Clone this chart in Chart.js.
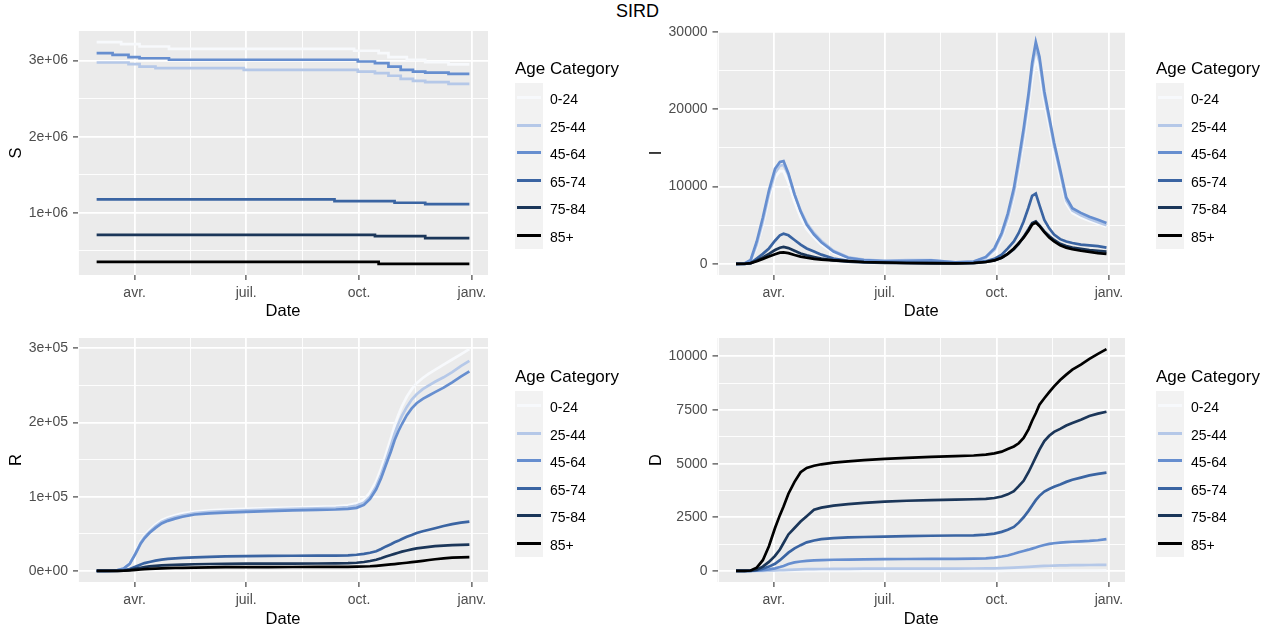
<!DOCTYPE html>
<html>
<head>
<meta charset="utf-8">
<title>SIRD</title>
<script src="https://cdn.jsdelivr.net/npm/chart.js@4.4.1/dist/chart.umd.min.js"></script>
<style>
  body {
    margin: 0;
    width: 1285px;
    height: 633px;
    position: relative;
    overflow: hidden;
    background: #ffffff;
    font-family: "Liberation Sans", Arial, sans-serif;
  }
  canvas { position: absolute; }
  #title {
    position: absolute;
    left: 0;
    top: 1px;
    width: 1275px;
    text-align: center;
    font-size: 18px;
    line-height: 21px;
    color: #000;
  }
  .legend { position: absolute; width: 125px; height: 200px; }
  .legend .head {
    position: absolute; left: 0; top: 0;
    font-size: 17px; line-height: 20px; white-space: nowrap; color: #000;
  }
  .legend .keys {
    position: absolute; left: 0; top: 24px; width: 28px; height: 166px;
    background: #f2f2f2;
  }
  .legend .row { position: absolute; left: 0; height: 28px; width: 120px; }
  .legend .swatch { position: absolute; left: 2px; top: 12px; width: 24px; height: 3px; }
  .legend .lab {
    position: absolute; left: 35px; top: 1px;
    font-size: 14px; line-height: 28px; color: #000;
  }
</style>
</head>
<body>
<div id="title">SIRD</div>
<canvas id="chartS" width="640" height="325" style="left:0;top:0"></canvas>
<canvas id="chartI" width="645" height="325" style="left:640px;top:0"></canvas>
<canvas id="chartR" width="640" height="325" style="left:0;top:308px"></canvas>
<canvas id="chartD" width="645" height="325" style="left:640px;top:308px"></canvas>
<script>
const FONT = "'Liberation Sans', Arial, sans-serif";

const categories = ["0-24", "25-44", "45-64", "65-74", "75-84", "85+"];
const colours = ["#f7f9fc", "#b5c8e8", "#668ecf", "#3a64a2", "#1b3659", "#000000"];

// x axis is day of year (2020), labelled by month
const xTicks = [91, 182, 274, 366];
const xTickLabels = ["avr.", "juil.", "oct.", "janv."];

// S : step changes, each value holds from its day onwards
const sDays = [60, 73, 80, 86, 95, 108, 119, 180, 254, 270, 273, 287, 290, 298, 303, 308, 313, 318, 328, 347, 364];
const s0_24 = [3242000, 3242000, 3216000, 3216000, 3184000, 3184000, 3154000, 3154000, 3154000, 3128000, 3128000,
  3128000, 3097000, 3045000, 3045000, 3045000, 3010000, 3010000, 2980000, 2950000, 2950000];
const s25_44 = [2974000, 2974000, 2974000, 2952000, 2920000, 2900000, 2900000, 2878000, 2878000, 2878000, 2855000,
  2834000, 2834000, 2800000, 2800000, 2760000, 2760000, 2733000, 2716000, 2693000, 2693000];
const s45_64 = [3097000, 3075000, 3075000, 3045000, 3030000, 3030000, 3010000, 3010000, 3010000, 3010000, 2987000,
  2966000, 2966000, 2920000, 2920000, 2878000, 2878000, 2855000, 2842000, 2825000, 2825000];
const s65_74 = [1176000, 1176000, 1176000, 1176000, 1176000, 1176000, 1176000, 1176000, 1154000, 1154000, 1154000,
  1154000, 1154000, 1154000, 1132000, 1132000, 1132000, 1132000, 1115000, 1115000, 1115000];
const s75_84 = [710000, 710000, 710000, 710000, 710000, 710000, 710000, 710000, 710000, 710000, 710000,
  693000, 693000, 693000, 693000, 693000, 693000, 693000, 667000, 667000, 667000];
const s85 = [355000, 355000, 355000, 355000, 355000, 355000, 355000, 355000, 355000, 355000, 355000,
  355000, 329000, 329000, 329000, 329000, 329000, 329000, 329000, 329000, 329000];
const sTicks = [1000000, 2000000, 3000000];
const sTickLabels = ["1e+06", "2e+06", "3e+06"];

// I, R and D are sampled on the same days
const days = [60, 67, 72, 77, 82, 87, 92, 96, 99, 103, 108, 113, 118, 124, 130, 140, 152, 165, 182, 200, 220, 240,
  255, 265, 272, 278, 283, 288, 292, 296, 300, 303, 306, 309, 313, 317, 321, 326, 331, 336, 343, 350, 357, 364];

const i0_24 = [0, 30, 300, 2200, 5000, 8500, 11200, 12000, 12000, 10500, 8000, 6000, 4500, 3400, 2500, 1400, 700, 450,
  350, 450, 450, 200, 250, 700, 1600, 3400, 5600, 8700, 12200, 16000, 20300, 24000, 26500, 25000, 21000, 17800,
  14600, 11200, 7800, 6600, 6000, 5600, 5200, 4800];
const i25_44 = [0, 40, 400, 2500, 5500, 9000, 11800, 12700, 12800, 11500, 9000, 6900, 5300, 4000, 3000, 1700, 850,
  550, 400, 500, 500, 200, 300, 800, 1800, 3700, 6000, 9200, 12800, 16800, 21300, 25300, 28000, 26200, 21800,
  18600, 15300, 11800, 8200, 6900, 6300, 5800, 5400, 5000];
const i45_64 = [0, 50, 500, 2900, 6000, 9500, 12300, 13200, 13300, 11700, 9000, 6800, 5100, 3800, 2800, 1600, 800,
  500, 350, 400, 450, 200, 300, 900, 2000, 4000, 6500, 9800, 13500, 17500, 22000, 26000, 28700, 26800, 22300,
  19000, 15700, 12200, 8600, 7200, 6600, 6100, 5700, 5300];
const i65_74 = [0, 10, 100, 700, 1300, 2000, 3000, 3700, 3900, 3700, 3100, 2500, 2000, 1600, 1200, 700, 400, 250,
  200, 150, 120, 100, 150, 350, 650, 1200, 2000, 2900, 4000, 5500, 7300, 8800, 9100, 7600, 5700, 4600, 3800,
  3200, 2900, 2700, 2500, 2400, 2300, 2100];
const i75_84 = [0, 10, 80, 450, 850, 1300, 1800, 2100, 2200, 2050, 1700, 1350, 1100, 900, 700, 450, 280, 180, 130,
  100, 80, 70, 100, 250, 450, 800, 1300, 1900, 2600, 3500, 4500, 5300, 5500, 5000, 4200, 3600, 3100, 2600, 2300,
  2100, 1950, 1800, 1700, 1600];
const i85 = [0, 20, 100, 350, 650, 950, 1250, 1450, 1500, 1400, 1150, 950, 800, 650, 550, 450, 350, 250, 180, 120,
  100, 80, 120, 250, 450, 800, 1300, 2000, 2700, 3400, 4300, 5100, 5350, 4900, 4100, 3400, 2900, 2400, 2100, 1900,
  1700, 1550, 1400, 1300];
const iTicks = [0, 10000, 20000, 30000];
const iTickLabels = ["0", "10000", "20000", "30000"];

const r0_24 = [0, 0, 200, 1200, 3600, 11000, 26500, 40500, 47500, 55000, 62500, 68500, 72000, 75000, 77500, 80000,
  81500, 82500, 83500, 84500, 85500, 86300, 87000, 88500, 91000, 96000, 106000, 121000, 138000, 158000, 179000,
  196000, 210000, 222000, 235000, 245000, 253000, 260000, 266000, 271000, 278000, 285000, 292000, 299000];
const r25_44 = [0, 0, 200, 1100, 3300, 10000, 25000, 38500, 45500, 52500, 60000, 66000, 69500, 72500, 75000, 78000,
  79500, 80500, 81500, 82500, 83500, 84300, 85000, 86000, 88000, 92000, 100000, 114000, 130000, 149000, 169000,
  185000, 198000, 209000, 221000, 231000, 238000, 245000, 250000, 255000, 261000, 268000, 276000, 283000];
const r45_64 = [0, 0, 200, 1000, 3000, 9500, 24000, 37000, 44000, 51000, 58000, 64000, 67500, 70500, 73000, 76000,
  77500, 78500, 79500, 80500, 81500, 82300, 82800, 83500, 85000, 89000, 97000, 110000, 125000, 143000, 161000,
  176000, 188000, 198000, 210000, 219000, 226000, 232000, 236500, 241000, 247000, 254000, 262000, 269000];
const r65_74 = [0, 0, 0, 200, 700, 2500, 6000, 8500, 10500, 12000, 13800, 15300, 16200, 17000, 17500, 18300, 19000,
  19500, 20000, 20200, 20400, 20500, 20600, 21000, 21800, 23000, 24500, 26500, 29500, 33000, 36000, 38500, 40500,
  43000, 46000, 48500, 51000, 53500, 55500, 57500, 60500, 63000, 65000, 66500];
const r75_84 = [0, 0, 0, 100, 400, 1300, 3000, 4300, 5200, 6000, 6800, 7400, 7900, 8300, 8600, 9000, 9300, 9500,
  9700, 9800, 9900, 10000, 10100, 10400, 11000, 12000, 13300, 15000, 17000, 19300, 21500, 23000, 24500, 26000,
  27500, 29000, 30300, 31500, 32500, 33300, 34200, 34800, 35200, 35500];
const r85 = [0, 0, 0, 50, 200, 600, 1300, 1900, 2300, 2700, 3100, 3400, 3700, 4000, 4200, 4500, 4800, 5000, 5100,
  5200, 5300, 5400, 5450, 5550, 5700, 5950, 6300, 6900, 7500, 8100, 8700, 9200, 9700, 10300, 11000, 11800, 12600,
  13600, 14700, 15700, 16900, 17800, 18300, 18600];
const rTicks = [0, 100000, 200000, 300000];
const rTickLabels = ["0e+00", "1e+05", "2e+05", "3e+05"];

const d0_24 = [0, 0, 0, 0, 0, 1, 1, 2, 2, 3, 3, 4, 4, 4, 5, 5, 5, 5, 5, 5, 5, 5, 5, 5, 6, 6, 7, 8, 9, 10, 11, 12, 13,
  14, 15, 16, 17, 18, 18, 19, 19, 20, 20, 21];
const d25_44 = [0, 0, 0, 2, 5, 12, 22, 32, 40, 50, 62, 72, 80, 86, 90, 95, 99, 102, 105, 107, 109, 110, 112, 115, 120,
  128, 138, 150, 163, 178, 192, 203, 213, 222, 232, 240, 247, 254, 260, 265, 270, 275, 280, 285];
const d45_64 = [0, 0, 0, 10, 30, 70, 120, 180, 230, 320, 400, 440, 470, 490, 505, 520, 530, 540, 550, 555, 560, 565,
  570, 580, 620, 670, 720, 800, 870, 930, 990, 1040, 1090, 1150, 1210, 1260, 1290, 1320, 1340, 1360, 1380, 1400,
  1430, 1480];
const d65_74 = [0, 0, 5, 30, 100, 200, 330, 500, 650, 850, 1050, 1200, 1330, 1420, 1480, 1530, 1560, 1580, 1600,
  1620, 1640, 1650, 1660, 1690, 1740, 1820, 1920, 2050, 2250, 2500, 2800, 3050, 3300, 3500, 3700, 3820, 3920,
  4030, 4150, 4250, 4350, 4450, 4520, 4580];
const d75_84 = [0, 0, 10, 60, 200, 420, 700, 1000, 1300, 1700, 2000, 2300, 2550, 2850, 2950, 3040, 3110, 3170, 3230,
  3270, 3300, 3320, 3340, 3360, 3400, 3470, 3570, 3720, 3950, 4200, 4600, 4950, 5300, 5650, 6050, 6300, 6480,
  6620, 6780, 6900, 7050, 7220, 7330, 7420];
const d85 = [0, 0, 20, 150, 500, 1150, 2000, 2600, 3000, 3600, 4150, 4600, 4800, 4900, 4970, 5050, 5110, 5160, 5220,
  5270, 5320, 5350, 5380, 5420, 5480, 5560, 5680, 5800, 5950, 6200, 6600, 7000, 7350, 7750, 8050, 8330, 8600,
  8900, 9150, 9380, 9620, 9880, 10120, 10340];
const dTicks = [0, 2500, 5000, 7500, 10000];
const dTickLabels = ["0", "2500", "5000", "7500", "10000"];

// grey panel behind the grid
const panelBackground = {
  id: "panelBackground",
  beforeDraw(chart) {
    const { ctx, chartArea: { left, top, width, height } } = chart;
    ctx.save();
    ctx.fillStyle = "#ebebeb";
    ctx.fillRect(left, top, width, height);
    ctx.restore();
  },
};

// 5% padding on each side of the data range
const expand = (lo, hi) => {
  const pad = (hi - lo) * 0.05;
  return [lo - pad, hi + pad];
};

// minor breaks halfway between majors, one extra step on each side
const minorBreaks = (major, lo, hi) => {
  const step = major[1] - major[0];
  const ext = [major[0] - step, ...major, major[major.length - 1] + step];
  const out = [];
  for (let k = 1; k < ext.length; k++) {
    const m = (ext[k - 1] + ext[k]) / 2;
    if (m >= lo && m <= hi) out.push(m);
  }
  return out;
};

const isMajor = (major, ctx) => ctx.tick !== undefined && major.includes(ctx.tick.value);

// function to build one axis with ggplot-like grid
const makeAxis = (position, major, labels, min, max, title, size) => {
  const minor = minorBreaks(major, min, max);
  const horizontal = position === "bottom";
  return {
    type: "linear",
    position,
    min,
    max,
    afterBuildTicks: (scale) => {
      scale.ticks = [...minor, ...major].sort((a, b) => a - b).map((value) => ({ value }));
    },
    afterFit: (scale) => {
      if (horizontal) scale.height = size;
      else scale.width = size;
    },
    ticks: {
      autoSkip: false,
      maxRotation: 0,
      padding: 5,
      color: "#4d4d4d",
      font: { family: FONT, size: 14 },
      callback: (value) => {
        const k = major.indexOf(value);
        return k >= 0 ? labels[k] : "";
      },
    },
    grid: {
      color: "#ffffff",
      lineWidth: (ctx) => (isMajor(major, ctx) ? 1.8 : 0.9),
      tickColor: (ctx) => (isMajor(major, ctx) ? "#333333" : "rgba(0,0,0,0)"),
      tickLength: 5,
      tickWidth: 1.1,
    },
    border: { display: false },
    title: {
      display: true,
      text: title,
      color: "#000000",
      font: { family: FONT, size: 16.5 },
      padding: horizontal ? { top: 0, bottom: 4 } : { top: 7, bottom: 0 },
    },
  };
};

// function to draw one panel: area is the plot rectangle inside the canvas
const makePanel = (id, xs, series, yTicks, yTickLabels, yTitle, stepped, area) => {
  const canvas = document.getElementById(id);
  const all = series.flat();
  const [yMin, yMax] = expand(Math.min(...all), Math.max(...all));
  const [xMin, xMax] = expand(xs[0], xs[xs.length - 1]);

  const datasets = series.map((values, k) => ({
    label: categories[k],
    data: values.map((v, j) => ({ x: xs[j], y: v })),
    borderColor: colours[k],
    borderWidth: 2.7,
    pointRadius: 0,
    fill: false,
    stepped: stepped,
    order: series.length - k,
  }));

  return new Chart(canvas, {
    type: "line",
    data: { datasets },
    options: {
      responsive: false,
      animation: false,
      devicePixelRatio: 1,
      layout: {
        padding: { left: 0, top: area.top, right: canvas.width - area.right, bottom: 0 },
      },
      plugins: {
        legend: { display: false },
        tooltip: { enabled: false },
      },
      scales: {
        x: makeAxis("bottom", xTicks, xTickLabels, xMin, xMax, "Date", canvas.height - area.bottom),
        y: makeAxis("left", yTicks, yTickLabels, yMin, yMax, yTitle, area.left),
      },
    },
    plugins: [panelBackground],
  });
};

// function to add an "Age Category" legend
const makeLegend = (left, top) => {
  const box = document.createElement("div");
  box.className = "legend";
  box.style.left = left + "px";
  box.style.top = top + "px";
  let html = '<div class="head">Age Category</div><div class="keys"></div>';
  categories.forEach((cat, k) => {
    html += `<div class="row" style="top:${Math.round(25 + k * 27.6)}px">` +
      `<span class="swatch" style="background:${colours[k]}"></span>` +
      `<span class="lab">${cat}</span></div>`;
  });
  box.innerHTML = html;
  document.body.appendChild(box);
};

makePanel("chartS", sDays, [s0_24, s25_44, s45_64, s65_74, s75_84, s85], sTicks, sTickLabels, "S", true,
  { left: 78, top: 31, right: 488, bottom: 275 });
makePanel("chartI", days, [i0_24, i25_44, i45_64, i65_74, i75_84, i85], iTicks, iTickLabels, "I", false,
  { left: 77.5, top: 31, right: 485, bottom: 275 });
makePanel("chartR", days, [r0_24, r25_44, r45_64, r65_74, r75_84, r85], rTicks, rTickLabels, "R", false,
  { left: 78, top: 30, right: 488, bottom: 274 });
makePanel("chartD", days, [d0_24, d25_44, d45_64, d65_74, d75_84, d85], dTicks, dTickLabels, "D", false,
  { left: 77.5, top: 30, right: 485, bottom: 274 });

makeLegend(515, 59);
makeLegend(1156, 59);
makeLegend(515, 367);
makeLegend(1156, 367);
</script>
</body>
</html>
